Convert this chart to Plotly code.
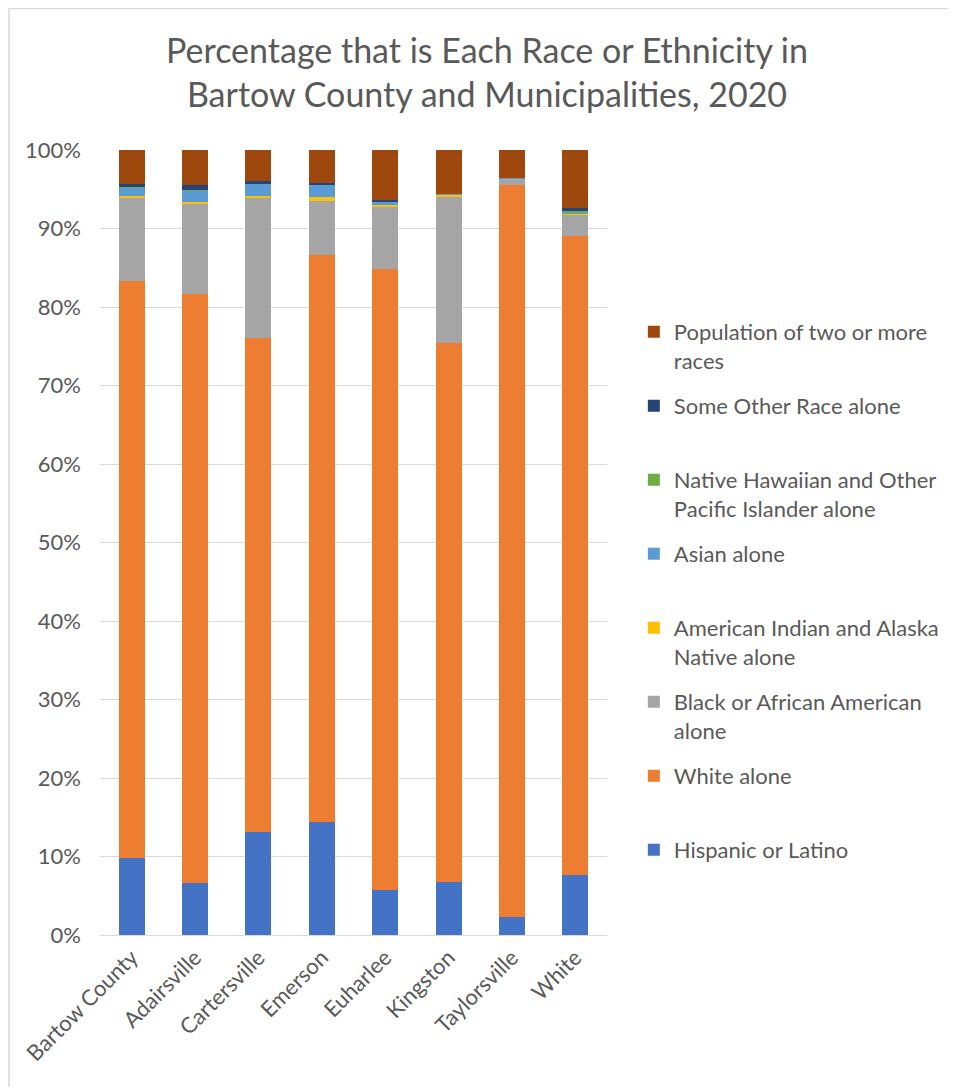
import plotly.graph_objs as go

# categories
places = ["Bartow County", "Adairsville", "Cartersville", "Emerson",
          "Euharlee", "Kingston", "Taylorsville", "White"]

# percentages (bottom to top of each stack)
hispanic = [9.8, 6.6, 13.1, 14.4, 5.7, 6.75, 2.3, 7.6]
white_alone = [73.5, 75.1, 62.9, 72.2, 79.1, 68.65, 93.3, 81.4]
black = [10.6, 11.5, 17.9, 6.9, 8.0, 18.7, 0.8, 2.8]
am_indian = [0.25, 0.2, 0.3, 0.55, 0.17, 0.25, 0.0, 0.05]
asian = [1.06, 1.45, 1.5, 1.5, 0.42, 0.05, 0.05, 0.17]
hawaiian = [0.05, 0.03, 0.03, 0.03, 0.03, 0.0, 0.0, 0.2]
other = [0.45, 0.64, 0.34, 0.25, 0.2, 0.05, 0.0, 0.34]
two_plus = [4.24, 4.5, 3.9, 4.2, 6.4, 5.6, 3.6, 7.5]

series = [
    ("Hispanic or Latino", hispanic, "#4472C4"),
    ("White alone", white_alone, "#ED7D31"),
    ("Black or African American<br>alone", black, "#A5A5A5"),
    ("American Indian and Alaska<br>Native alone", am_indian, "#FFC000"),
    ("Asian alone", asian, "#5B9BD5"),
    ("Native Hawaiian and Other<br>Pacific Islander alone", hawaiian, "#70AD47"),
    ("Some Other Race alone", other, "#264478"),
    ("Population of two or more<br>races", two_plus, "#9E480E"),
]

FONT = "Lato"
GREY = "#595959"

fig = go.Figure()
for i, (name, vals, color) in enumerate(series):
    # every entry two lines tall so the legend rows are evenly spaced
    label = name if "<br>" in name else name + "<br> "
    fig.add_trace(go.Bar(x=places, y=[v / 100 for v in vals], name=label,
                         legendgroup=name, legendrank=100 - i,
                         marker=dict(color=color, line=dict(width=0))))

# the page body has an 8px margin, so the figure is 8px smaller than the window
W, H = 948, 1079
L, R, T, B = 92, 346, 142, 152
pw, ph = W - L - R, H - T - B
X0, Y0 = 100, 935  # screen position of plot origin

fig.update_layout(
    width=W, height=H,
    barmode="stack", bargap=0.59,
    margin=dict(l=L, r=R, t=T, b=B),
    paper_bgcolor="white", plot_bgcolor="white",
    font=dict(family=FONT, color=GREY, size=22),
    title=dict(text="Percentage that is Each Race or Ethnicity in<br>Bartow County and Municipalities, 2020",
               x=(487 - 8) / W, xanchor="center",
               y=1 - (62.5 - 8) / H, yanchor="middle",
               font=dict(family=FONT, size=34, color=GREY)),
    legend=dict(x=(637 - X0) / pw, xanchor="left",
                y=(Y0 - 311) / ph, yanchor="top",
                traceorder="grouped", tracegroupgap=13.8,
                valign="top",
                font=dict(family=FONT, size=22, color=GREY),
                itemclick=False),
    showlegend=True,
)
fig.update_yaxes(range=[0, 1], tickformat=".0%", dtick=0.1,
                 showgrid=True, gridcolor="#D9D9D9", gridwidth=1,
                 zeroline=False, ticks="", ticklabelstandoff=18,
                 tickfont=dict(size=22, color=GREY))
fig.update_xaxes(type="category", tickangle=-45, showline=True,
                 linecolor="#D9D9D9", linewidth=1, ticks="",
                 tickfont=dict(size=22, color=GREY))

# chart frame (only top and left edges are visible in the original)
fig.add_shape(type="rect", xref="paper", yref="paper",
              x0=(8.5 - X0) / pw, x1=(W + 30 - X0) / pw,
              y0=-(H + 30 - Y0) / ph, y1=(Y0 - 8.5) / ph,
              line=dict(color="#D9D9D9", width=1.5), layer="below")

fig.write_html("out.html")
